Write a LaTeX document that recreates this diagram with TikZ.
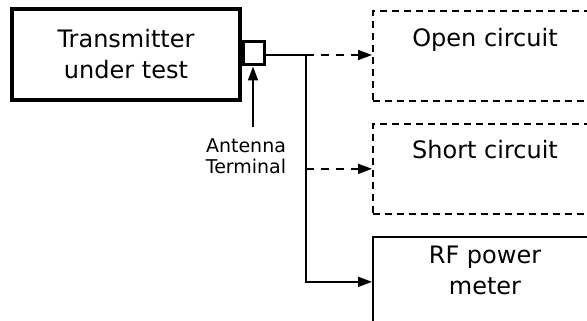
\documentclass[tikz,border=0pt]{standalone}
\usepackage{fontspec}
\setmainfont{DejaVu Sans}
\usetikzlibrary{arrows.meta}
\begin{document}
\begin{tikzpicture}[x=1pt,y=-1pt,
  bigtxt/.style={font=\fontsize{24}{31}\selectfont, inner sep=0pt, align=center},
  smalltxt/.style={font=\fontsize{19}{21}\selectfont, inner sep=0pt, align=center},
  txbox/.style={draw, line width=4pt, minimum width=228pt, minimum height=91pt, inner sep=0pt},
  termbox/.style={draw, line width=3pt, minimum width=21pt, minimum height=23pt, inner sep=0pt},
  dashbox/.style={draw, line width=1.7pt, dash pattern=on 7pt off 5pt, minimum width=226pt, minimum height=90pt, inner sep=0pt},
  solidbox/.style={draw, line width=1.7pt, minimum width=226pt, minimum height=90pt, inner sep=0pt},
  conn/.style={line width=1.8pt},
  tip/.style={-{Triangle[length=14pt,width=10pt]}},
  dconn/.style={line width=1.8pt, dash pattern=on 8pt off 7pt, -{Triangle[length=14pt,width=10pt]}}
]
\useasboundingbox (0,0) rectangle (587,321);
% boxes
\node[txbox, bigtxt] (tx) at (126,54.5) {Transmitter\\under test};
\node[termbox] (term) at (253.5,53.5) {};
\node[dashbox, anchor=north west] (oc) at (372,10) {};
\node[dashbox, anchor=north west] (sc) at (372,123) {};
\node[solidbox, anchor=north west] (rf) at (372,236) {};
% texts
\node[bigtxt, anchor=base] (octext) at (485,47) {Open circuit};
\node[bigtxt, anchor=base] (sctext) at (485,158) {Short circuit};
\node[bigtxt, anchor=base] (rftext) at (485,294) {RF power\\meter};
\node[smalltxt, anchor=base] (ant) at (246,173) {Antenna\\Terminal};
% connectors
\coordinate (jn) at (306,55);
\draw[conn] (term.east |- jn) -- (jn);
\draw[dconn] (jn) -- (oc.west |- jn);
\draw[dconn] (jn |- sc.west) -- (sc.west);
\draw[conn, tip] (jn) |- (rf.west);
\coordinate (antup) at (253,127);
\draw[conn, tip] (antup) -- (antup |- term.south);
\end{tikzpicture}
\end{document}
